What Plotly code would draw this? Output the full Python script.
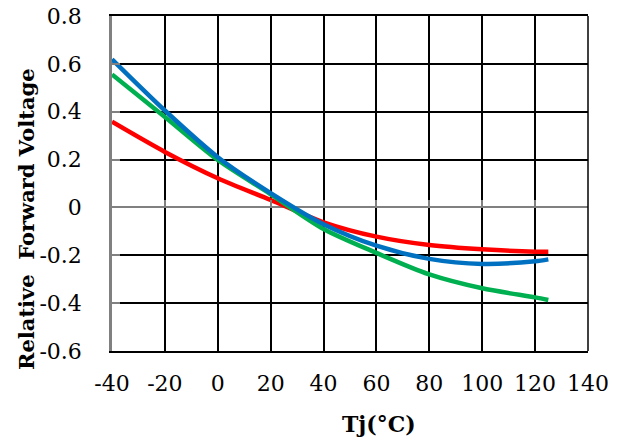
import plotly.graph_objects as go

temps = [-40, -20, 0, 20, 40, 60, 80, 100, 120, 125]
red_vals = [0.358, 0.232, 0.122, 0.031, -0.062, -0.122, -0.157, -0.175, -0.185, -0.185]
blue_vals = [0.619, 0.405, 0.210, 0.060, -0.070, -0.160, -0.215, -0.236, -0.225, -0.217]
green_vals = [0.556, 0.378, 0.198, 0.055, -0.090, -0.190, -0.280, -0.338, -0.376, -0.387]

x_ticks = [-40, -20, 0, 20, 40, 60, 80, 100, 120, 140]
y_ticks = [-0.6, -0.4, -0.2, 0, 0.2, 0.4, 0.6, 0.8]
y_ticklabels = ["-0.6", "-0.4", "-0.2", "0", "0.2", "0.4", "0.6", "0.8"]

font_family = "DejaVu Serif"

fig = go.Figure()
for vals, color in [(red_vals, "#FF0000"), (green_vals, "#00B050"), (blue_vals, "#0070C0")]:
    fig.add_trace(go.Scatter(x=temps, y=vals, mode="lines",
                             line=dict(color=color, width=4.5, shape="spline", smoothing=0.8),
                             showlegend=False, hoverinfo="skip"))

fig.update_layout(
    width=627, height=443,
    margin=dict(l=112, r=39, t=16, b=92, autoexpand=False),
    paper_bgcolor="white", plot_bgcolor="white",
    font=dict(family=font_family, color="black", size=22),
    xaxis=dict(range=[-40, 140], tickvals=x_ticks, ticktext=[str(v) for v in x_ticks],
               showgrid=True, gridcolor="black", gridwidth=1.5, automargin=False,
               showline=True, linecolor="black", linewidth=1.5, mirror=True,
               zeroline=False, ticks="", ticklen=0,
               tickfont=dict(family=font_family, size=22), ticklabelstandoff=12),
    yaxis=dict(range=[-0.6, 0.8], tickvals=y_ticks, ticktext=y_ticklabels,
               showgrid=True, gridcolor="black", gridwidth=1.5, automargin=False,
               showline=True, linecolor="#808080", linewidth=2.5,
               zeroline=True, zerolinecolor="#808080", zerolinewidth=2,
               ticks="inside", ticklen=8, tickcolor="#808080", tickwidth=2,
               tickfont=dict(family=font_family, size=22), ticklabelstandoff=23),
    xaxis2=dict(range=[-40, 140], tickvals=x_ticks, overlaying="x", anchor="free",
                position=0.6 / 1.4, showgrid=False, zeroline=False, showline=False,
                ticks="inside", ticklen=7, tickcolor="#808080", tickwidth=2, automargin=False,
                showticklabels=False, side="bottom"),
)

fig.add_trace(go.Scatter(x=[-40], y=[None], xaxis="x2", showlegend=False, hoverinfo="skip"))

# right border
fig.add_shape(type="line", xref="paper", yref="paper", x0=1, x1=1, y0=0, y1=1,
              line=dict(color="black", width=1.5))

fig.add_annotation(text="<b>Tj(°C)</b>", xref="paper", yref="paper", x=(379 - 112) / 476, y=-(424 - 351) / 335,
                   showarrow=False, font=dict(family=font_family, size=22), xanchor="center", yanchor="middle")
fig.add_annotation(text="<b>Relative  Forward Voltage</b>", xref="paper", yref="paper",
                   x=-(112 - 27) / 476, y=(351 - 219) / 335, textangle=-90,
                   showarrow=False, font=dict(family=font_family, size=21), xanchor="center", yanchor="middle")

fig.write_html("out.html")
